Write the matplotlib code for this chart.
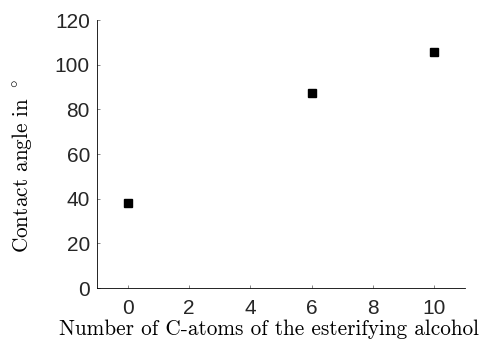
import matplotlib
matplotlib.use('Agg')
import matplotlib.pyplot as plt

# Data
carbon_atoms = [0, 6, 10]
contact_angle = [38.2, 87.3, 105.5]
x_ticks = [0, 2, 4, 6, 8, 10]
y_ticks = [0, 20, 40, 60, 80, 100, 120]

plt.rcParams['mathtext.fontset'] = 'cm'

fig = plt.figure(figsize=(4.89, 3.47), dpi=100)
ax = fig.add_axes([0.198, 0.170, 0.753, 0.772])

ax.plot(carbon_atoms, contact_angle, linestyle='none', marker='s',
        markersize=6, color='black')

ax.set_xlim(-1, 11)
ax.set_ylim(0, 120)
ax.set_xticks(x_ticks)
ax.set_yticks(y_ticks)

ax.spines['top'].set_visible(False)
ax.spines['right'].set_visible(False)
ax.spines['left'].set_linewidth(0.6)
ax.spines['bottom'].set_linewidth(0.6)

ax.tick_params(direction='in', length=2.5, width=0.5, color='#555555',
               labelsize=15, labelcolor='#262626')
ax.tick_params(axis='x', pad=8)
ax.tick_params(axis='y', pad=5)
for lbl in ax.get_xticklabels() + ax.get_yticklabels():
    lbl.set_fontfamily('Liberation Sans')

ax.set_xlabel('Number of C-atoms of the esterifying alcohol',
              fontfamily='cmr10', fontsize=15.3)
ax.set_ylabel(r'Contact angle in $^\circ$', fontfamily='cmr10', fontsize=15.3)
ax.xaxis.set_label_coords(0.467, -0.117)
ax.yaxis.set_label_coords(-0.171, 0.455)

fig.savefig('out.png', dpi=100)
